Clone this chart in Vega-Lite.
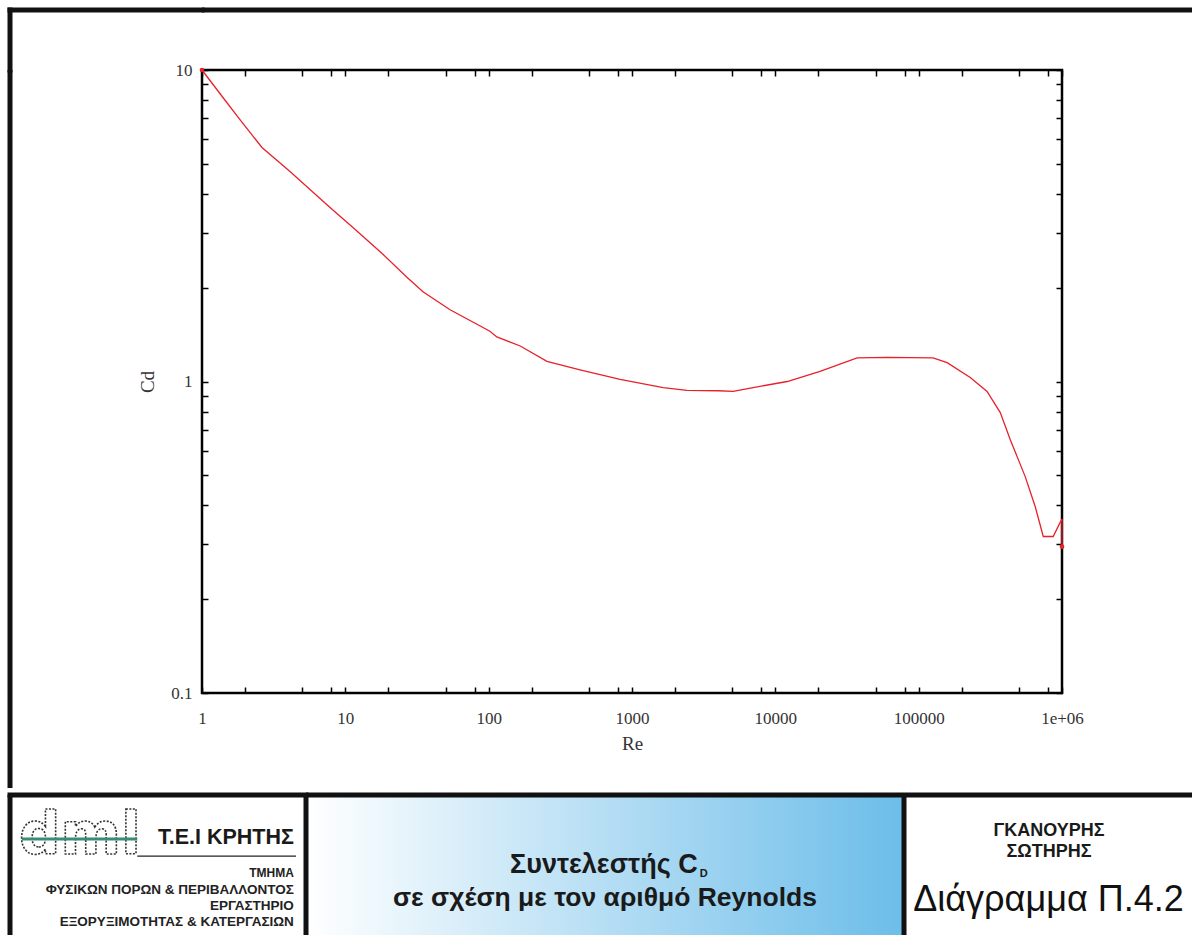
{
  "$schema": "https://vega.github.io/schema/vega-lite/v6.json",
  "background": "white",
  "padding": {"left": 6, "top": 6, "right": 0, "bottom": 0},
  "spacing": 0,
  "config": {"view": {"stroke": null}, "font": "Liberation Sans"},
  "datasets": {
    "one": [{}],
    "curve": [
      {"Re": 1, "Cd": 10}, {"Re": 1.4, "Cd": 8.16}, {"Re": 1.84, "Cd": 6.93}, {"Re": 2.62, "Cd": 5.64},
      {"Re": 4.11, "Cd": 4.72}, {"Re": 7.82, "Cd": 3.62}, {"Re": 11.3, "Cd": 3.12}, {"Re": 18.3, "Cd": 2.56},
      {"Re": 26.9, "Cd": 2.16}, {"Re": 34.8, "Cd": 1.94}, {"Re": 53.8, "Cd": 1.7}, {"Re": 102, "Cd": 1.45},
      {"Re": 114, "Cd": 1.39}, {"Re": 166, "Cd": 1.3}, {"Re": 255, "Cd": 1.16}, {"Re": 434, "Cd": 1.09},
      {"Re": 826, "Cd": 1.015}, {"Re": 1650, "Cd": 0.956}, {"Re": 2420, "Cd": 0.936}, {"Re": 4000, "Cd": 0.934},
      {"Re": 5080, "Cd": 0.929}, {"Re": 7000, "Cd": 0.956}, {"Re": 12100, "Cd": 1.0}, {"Re": 20500, "Cd": 1.077},
      {"Re": 37200, "Cd": 1.19}, {"Re": 60300, "Cd": 1.195}, {"Re": 126000, "Cd": 1.19}, {"Re": 158000, "Cd": 1.15},
      {"Re": 229000, "Cd": 1.03}, {"Re": 300000, "Cd": 0.929}, {"Re": 371000, "Cd": 0.795}, {"Re": 435000, "Cd": 0.651},
      {"Re": 553000, "Cd": 0.496}, {"Re": 650000, "Cd": 0.397}, {"Re": 740000, "Cd": 0.318}, {"Re": 868000, "Cd": 0.318},
      {"Re": 971000, "Cd": 0.353}, {"Re": 1000000, "Cd": 0.362}, {"Re": 1000000, "Cd": 0.295}
    ]
  },
  "vconcat": [
    {
      "columns": 3,
      "spacing": 0,
      "bounds": "flush",
      "concat": [
        {
          "width": 192, "height": 60,
          "layer": [
            {"data": {"name": "one"}, "mark": {"type": "rule", "stroke": "#111", "strokeWidth": 5, "strokeCap": "square"},
             "encoding": {"x": {"datum": 0, "type": "quantitative", "scale": {"domain": [0, 1]}, "axis": null}}},
            {"data": {"name": "one"}, "mark": {"type": "rule", "stroke": "#111", "strokeWidth": 5, "strokeCap": "square"},
             "encoding": {"y": {"datum": 1, "type": "quantitative", "scale": {"domain": [0, 1]}, "axis": null}}}
          ]
        },
        {
          "width": 860, "height": 60,
          "data": {"name": "one"}, "mark": {"type": "rule", "stroke": "#111", "strokeWidth": 5},
          "encoding": {"y": {"datum": 1, "type": "quantitative", "scale": {"domain": [0, 1]}, "axis": null}}
        },
        {
          "width": 130, "height": 60,
          "data": {"name": "one"}, "mark": {"type": "rule", "stroke": "#111", "strokeWidth": 5},
          "encoding": {"y": {"datum": 1, "type": "quantitative", "scale": {"domain": [0, 1]}, "axis": null}}
        },
        {
          "width": 192, "height": 623,
          "data": {"name": "one"}, "mark": {"type": "rule", "stroke": "#111", "strokeWidth": 5},
          "encoding": {"x": {"datum": 0, "type": "quantitative", "scale": {"domain": [0, 1]}, "axis": null}}
        },
        {
          "width": 860, "height": 623,
          "view": {"stroke": "#000", "strokeWidth": 2.5},
          "data": {"name": "curve"},
          "layer": [
            {
              "mark": {"type": "line", "color": "#e8202a", "strokeWidth": 1.3},
              "encoding": {
                "x": {"field": "Re", "type": "quantitative", "title": "Re",
                      "scale": {"type": "log", "domain": [1, 1000000], "nice": false},
                      "axis": {"orient": "bottom", "values": [1,2,5,8,10,20,50,80,100,200,500,800,1000,2000,5000,8000,10000,20000,50000,80000,100000,200000,500000,800000,1000000],
                               "labelExpr": "datum.value == 1000000 ? '1e+06' : (indexof([1,10,100,1000,10000,100000], datum.value) >= 0 ? format(datum.value, 'd') : '')",
                               "tickSize": -6, "tickWidth": 1.5, "tickColor": "#000", "domain": false, "grid": false,
                               "labelFont": "Liberation Serif", "labelFontSize": 17, "labelColor": "#333", "labelPadding": 23,
                               "labelOverlap": false, "labelFlush": false, "labelBound": false,
                               "titleFont": "Liberation Serif", "titleFontSize": 19, "titleFontWeight": "normal", "titleColor": "#333", "titlePadding": 8}},
                "y": {"field": "Cd", "type": "quantitative", "title": "Cd",
                      "scale": {"type": "log", "domain": [0.1, 10], "nice": false},
                      "axis": {"orient": "left", "values": [0.1,0.2,0.3,0.4,0.5,0.6,0.7,0.8,0.9,1,2,3,4,5,6,7,8,9,10],
                               "labelExpr": "datum.value == 0.1 ? '0.1' : (datum.value == 1 ? '1' : (datum.value == 10 ? '10' : ''))",
                               "tickSize": -6, "tickWidth": 1.5, "tickColor": "#000", "domain": false, "grid": false,
                               "labelFont": "Liberation Serif", "labelFontSize": 17, "labelColor": "#333", "labelPadding": 16,
                               "labelOverlap": false, "labelFlush": false, "labelBound": false,
                               "titleFont": "Liberation Serif", "titleFontSize": 19, "titleFontWeight": "normal", "titleColor": "#333", "titlePadding": 13}}
              }
            },
            {
              "transform": [{"filter": "datum.Re == 1 || datum.Cd < 0.3"}],
              "mark": {"type": "circle", "color": "#e8202a", "size": 22, "opacity": 1},
              "encoding": {
                "x": {"field": "Re", "type": "quantitative",
                      "axis": {"orient": "top", "values": [1,2,5,8,10,20,50,80,100,200,500,800,1000,2000,5000,8000,10000,20000,50000,80000,100000,200000,500000,800000,1000000],
                               "labels": false, "title": null, "tickSize": -6, "tickWidth": 1.5, "tickColor": "#000", "domain": false, "grid": false}},
                "y": {"field": "Cd", "type": "quantitative",
                      "axis": {"orient": "right", "values": [0.1,0.2,0.3,0.4,0.5,0.6,0.7,0.8,0.9,1,2,3,4,5,6,7,8,9,10],
                               "labels": false, "title": null, "tickSize": -6, "tickWidth": 1.5, "tickColor": "#000", "domain": false, "grid": false}}
              }
            }
          ],
          "resolve": {"axis": {"x": "independent", "y": "independent"}}
        },
        {
          "width": 130, "height": 623,
          "data": {"name": "one"}, "mark": {"type": "text", "text": ""}
        },
        {
          "width": 192, "height": 95,
          "data": {"name": "one"}, "mark": {"type": "rule", "stroke": "#111", "strokeWidth": 5},
          "encoding": {"x": {"datum": 0, "type": "quantitative", "scale": {"domain": [0, 1]}, "axis": null}}
        },
        {
          "width": 860, "height": 95,
          "data": {"name": "one"}, "mark": {"type": "text", "text": ""}
        },
        {
          "width": 130, "height": 95,
          "data": {"name": "one"}, "mark": {"type": "text", "text": ""}
        }
      ]
    },
    {
      "spacing": 0,
      "bounds": "flush",
      "hconcat": [
        {
          "width": 296, "height": 141,
          "layer": [
            {"data": {"values": [{"label": "dml"}]},
             "mark": {"type": "text", "font": "DejaVu Sans", "fontWeight": "bold", "fontSize": 58, "fill": "#ffffff", "stroke": "#333", "strokeWidth": 1.6, "strokeDash": [2, 1.5], "align": "center", "baseline": "alphabetic"},
             "encoding": {"text": {"field": "label"},
                          "x": {"datum": 0.236, "type": "quantitative", "scale": {"domain": [0, 1]}, "axis": null},
                          "y": {"datum": 0.582, "type": "quantitative", "scale": {"domain": [0, 1]}, "axis": null}}},
            {"data": {"name": "one"}, "mark": {"type": "rule", "stroke": "#3a8c76", "strokeWidth": 3},
             "encoding": {"x": {"datum": 0.04, "type": "quantitative", "scale": {"domain": [0, 1]}, "axis": null}, "x2": {"datum": 0.43},
                          "y": {"datum": 0.688, "type": "quantitative", "scale": {"domain": [0, 1]}, "axis": null}}},
            {"data": {"values": [{"label": "Τ.Ε.Ι ΚΡΗΤΗΣ"}]},
             "mark": {"type": "text", "fontWeight": "bold", "fontSize": 21.5, "color": "#1a1a1a", "align": "right", "baseline": "alphabetic"},
             "encoding": {"text": {"field": "label"},
                          "x": {"datum": 0.959, "type": "quantitative", "scale": {"domain": [0, 1]}, "axis": null},
                          "y": {"datum": 0.652, "type": "quantitative", "scale": {"domain": [0, 1]}, "axis": null}}},
            {"data": {"name": "one"}, "mark": {"type": "rule", "stroke": "#222", "strokeWidth": 1.3},
             "encoding": {"x": {"datum": 0.43, "type": "quantitative", "scale": {"domain": [0, 1]}, "axis": null}, "x2": {"datum": 0.966},
                          "y": {"datum": 0.567, "type": "quantitative", "scale": {"domain": [0, 1]}, "axis": null}}},
            {"data": {"values": [{"label": "ΤΜΗΜΑ"}]},
             "mark": {"type": "text", "fontWeight": "bold", "fontSize": 12, "color": "#222", "align": "right", "baseline": "alphabetic"},
             "encoding": {"text": {"field": "label"},
                          "x": {"datum": 0.959, "type": "quantitative", "scale": {"domain": [0, 1]}, "axis": null},
                          "y": {"datum": 0.418, "type": "quantitative", "scale": {"domain": [0, 1]}, "axis": null}}},
            {"data": {"values": [{"label": "ΦΥΣΙΚΩΝ ΠΟΡΩΝ & ΠΕΡΙΒΑΛΛΟΝΤΟΣ"}]},
             "mark": {"type": "text", "fontWeight": "bold", "fontSize": 13.5, "color": "#222", "align": "right", "baseline": "alphabetic"},
             "encoding": {"text": {"field": "label"},
                          "x": {"datum": 0.959, "type": "quantitative", "scale": {"domain": [0, 1]}, "axis": null},
                          "y": {"datum": 0.298, "type": "quantitative", "scale": {"domain": [0, 1]}, "axis": null}}},
            {"data": {"values": [{"label": "ΕΡΓΑΣΤΗΡΙΟ"}]},
             "mark": {"type": "text", "fontWeight": "bold", "fontSize": 13.5, "color": "#222", "align": "right", "baseline": "alphabetic"},
             "encoding": {"text": {"field": "label"},
                          "x": {"datum": 0.959, "type": "quantitative", "scale": {"domain": [0, 1]}, "axis": null},
                          "y": {"datum": 0.184, "type": "quantitative", "scale": {"domain": [0, 1]}, "axis": null}}},
            {"data": {"values": [{"label": "ΕΞΟΡΥΞΙΜΟΤΗΤΑΣ & ΚΑΤΕΡΓΑΣΙΩΝ"}]},
             "mark": {"type": "text", "fontWeight": "bold", "fontSize": 13.5, "color": "#222", "align": "right", "baseline": "alphabetic"},
             "encoding": {"text": {"field": "label"},
                          "x": {"datum": 0.959, "type": "quantitative", "scale": {"domain": [0, 1]}, "axis": null},
                          "y": {"datum": 0.071, "type": "quantitative", "scale": {"domain": [0, 1]}, "axis": null}}},
            {"data": {"name": "one"}, "mark": {"type": "rule", "stroke": "#111", "strokeWidth": 5},
             "encoding": {"x": {"datum": 0, "type": "quantitative", "scale": {"domain": [0, 1]}, "axis": null}}},
            {"data": {"name": "one"}, "mark": {"type": "rule", "stroke": "#111", "strokeWidth": 5, "strokeCap": "square"},
             "encoding": {"y": {"datum": 1, "type": "quantitative", "scale": {"domain": [0, 1]}, "axis": null}}}
          ]
        },
        {
          "width": 598, "height": 141,
          "layer": [
            {"data": {"name": "one"},
             "mark": {"type": "rect", "fill": {"gradient": "linear", "x1": 0, "y1": 0, "x2": 1, "y2": 0,
                      "stops": [{"offset": 0, "color": "#ffffff"}, {"offset": 1, "color": "#6cbde9"}]}},
             "encoding": {"x": {"datum": 0, "type": "quantitative", "scale": {"domain": [0, 1]}, "axis": null}, "x2": {"datum": 1},
                          "y": {"datum": 0, "type": "quantitative", "scale": {"domain": [0, 1]}, "axis": null}, "y2": {"datum": 1}}},
            {"data": {"values": [{"label": "Συντελεστής C"}]},
             "mark": {"type": "text", "fontWeight": "bold", "fontSize": 27, "color": "#1a1a1a", "align": "right", "baseline": "alphabetic"},
             "encoding": {"text": {"field": "label"},
                          "x": {"datum": 0.655, "type": "quantitative", "scale": {"domain": [0, 1]}, "axis": null},
                          "y": {"datum": 0.449, "type": "quantitative", "scale": {"domain": [0, 1]}, "axis": null}}},
            {"data": {"values": [{"label": "D"}]},
             "mark": {"type": "text", "fontWeight": "bold", "fontSize": 11, "color": "#1a1a1a", "align": "left", "baseline": "alphabetic", "dx": 2, "dy": 4},
             "encoding": {"text": {"field": "label"},
                          "x": {"datum": 0.655, "type": "quantitative", "scale": {"domain": [0, 1]}, "axis": null},
                          "y": {"datum": 0.449, "type": "quantitative", "scale": {"domain": [0, 1]}, "axis": null}}},
            {"data": {"values": [{"label": "σε σχέση με τον αριθμό Reynolds"}]},
             "mark": {"type": "text", "fontWeight": "bold", "fontSize": 26.5, "color": "#1a1a1a", "align": "center", "baseline": "alphabetic"},
             "encoding": {"text": {"field": "label"},
                          "x": {"datum": 0.5, "type": "quantitative", "scale": {"domain": [0, 1]}, "axis": null},
                          "y": {"datum": 0.213, "type": "quantitative", "scale": {"domain": [0, 1]}, "axis": null}}},
            {"data": {"name": "one"}, "mark": {"type": "rule", "stroke": "#111", "strokeWidth": 5},
             "encoding": {"x": {"datum": 0, "type": "quantitative", "scale": {"domain": [0, 1]}, "axis": null}}},
            {"data": {"name": "one"}, "mark": {"type": "rule", "stroke": "#111", "strokeWidth": 5},
             "encoding": {"y": {"datum": 1, "type": "quantitative", "scale": {"domain": [0, 1]}, "axis": null}}}
          ]
        },
        {
          "width": 289, "height": 141,
          "layer": [
            {"data": {"values": [{"label": "ΓΚΑΝΟΥΡΗΣ"}]},
             "mark": {"type": "text", "fontWeight": "bold", "fontSize": 18, "color": "#1a1a1a", "align": "center", "baseline": "alphabetic"},
             "encoding": {"text": {"field": "label"},
                          "x": {"datum": 0.502, "type": "quantitative", "scale": {"domain": [0, 1]}, "axis": null},
                          "y": {"datum": 0.706, "type": "quantitative", "scale": {"domain": [0, 1]}, "axis": null}}},
            {"data": {"values": [{"label": "ΣΩΤΗΡΗΣ"}]},
             "mark": {"type": "text", "fontWeight": "bold", "fontSize": 18, "color": "#1a1a1a", "align": "center", "baseline": "alphabetic"},
             "encoding": {"text": {"field": "label"},
                          "x": {"datum": 0.502, "type": "quantitative", "scale": {"domain": [0, 1]}, "axis": null},
                          "y": {"datum": 0.557, "type": "quantitative", "scale": {"domain": [0, 1]}, "axis": null}}},
            {"data": {"values": [{"label": "Διάγραμμα Π.4.2"}]},
             "mark": {"type": "text", "fontSize": 36, "color": "#111", "align": "center", "baseline": "alphabetic"},
             "encoding": {"text": {"field": "label"},
                          "x": {"datum": 0.5, "type": "quantitative", "scale": {"domain": [0, 1]}, "axis": null},
                          "y": {"datum": 0.177, "type": "quantitative", "scale": {"domain": [0, 1]}, "axis": null}}},
            {"data": {"name": "one"}, "mark": {"type": "rule", "stroke": "#111", "strokeWidth": 5},
             "encoding": {"x": {"datum": 0, "type": "quantitative", "scale": {"domain": [0, 1]}, "axis": null}}},
            {"data": {"name": "one"}, "mark": {"type": "rule", "stroke": "#111", "strokeWidth": 5},
             "encoding": {"y": {"datum": 1, "type": "quantitative", "scale": {"domain": [0, 1]}, "axis": null}}}
          ]
        }
      ]
    }
  ]
}
